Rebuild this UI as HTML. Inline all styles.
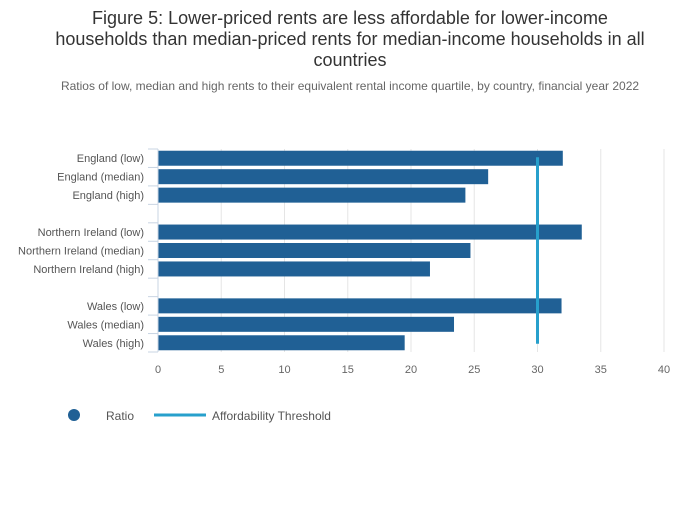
<!DOCTYPE html>
<html><head><meta charset="utf-8"><style>
body{margin:0;background:#fff;font-family:"Liberation Sans",sans-serif}
svg text{font-family:"Liberation Sans",sans-serif}
</style></head><body>
<svg id="c" width="700" height="502" xmlns="http://www.w3.org/2000/svg">
<text x="350" y="24" text-anchor="middle" font-size="18" fill="#333">Figure 5: Lower-priced rents are less affordable for lower-income</text>
<text x="350" y="45" text-anchor="middle" font-size="18" fill="#333">households than median-priced rents for median-income households in all</text>
<text x="350" y="66" text-anchor="middle" font-size="18" fill="#333">countries</text>
<text x="350" y="90" text-anchor="middle" font-size="12" fill="#666">Ratios of low, median and high rents to their equivalent rental income quartile, by country, financial year 2022</text>
<g id="grid"></g><g id="bars"></g><g id="axes"></g>
<g>
<circle cx="74" cy="415" r="6" fill="#206095"/>
<text x="106" y="420" font-size="12" fill="#555">Ratio</text>
<line x1="154" y1="415" x2="206" y2="415" stroke="#27a0cc" stroke-width="3"/>
<text x="212" y="420" font-size="12" fill="#555">Affordability Threshold</text>
</g>
</svg>
<script>
const categories=["England (low)","England (median)","England (high)","","Northern Ireland (low)","Northern Ireland (median)","Northern Ireland (high)","","Wales (low)","Wales (median)","Wales (high)"];
const ratios=[32.0,26.1,24.3,null,33.5,24.7,21.5,null,31.9,23.4,19.5];
const threshold=30;
const xTicks=[0,5,10,15,20,25,30,35,40];
const NS="http://www.w3.org/2000/svg";
const x0=158,x1=664,xMax=40,yTop=149,yBot=352;
const slot=(yBot-yTop)/categories.length;
const X=v=>x0+(v/xMax)*(x1-x0);
const Y=i=>yTop+slot*(i+0.5);
function mk(t,a,p,txt){const e=document.createElementNS(NS,t);for(const k in a)e.setAttribute(k,a[k]);if(txt!=null)e.textContent=txt;p.appendChild(e);return e;}
const grid=document.getElementById('grid'),bars=document.getElementById('bars'),axes=document.getElementById('axes');
xTicks.forEach(t=>{
 if(t>0){const g=mk('line',{x1:X(t),x2:X(t),y1:yTop,y2:yBot,stroke:'#e5e5e5','stroke-width':1},grid);
 
 }
 const l=mk('text',{x:X(t),y:373,'text-anchor':'middle','font-size':11,fill:'#666'},axes,String(t));
 
 
});
categories.forEach((c,i)=>{
 if(ratios[i]!=null){
  const r=mk('rect',{x:x0,y:Y(i)-7.5,width:X(ratios[i])-x0,height:15,fill:'#206095'},bars);
  
  
 }
 if(c){const t=mk('text',{x:144,y:Y(i)+4,'text-anchor':'end','font-size':11,fill:'#555'},axes,c);
 
 }
});
for(let i=0;i<=categories.length;i++){
 const tk=mk('line',{x1:148,x2:x0,y1:yTop+slot*i,y2:yTop+slot*i,stroke:'#c8d4e3','stroke-width':1},axes);
 
 
}
const ax=mk('line',{x1:x0,x2:x0,y1:yTop,y2:yBot,stroke:'#c8d4e3','stroke-width':1},axes);


const th=mk('line',{x1:X(threshold),x2:X(threshold),y1:Y(0)-1,y2:Y(10)+1,stroke:'#27a0cc','stroke-width':3},bars);


</script>
</body></html>
